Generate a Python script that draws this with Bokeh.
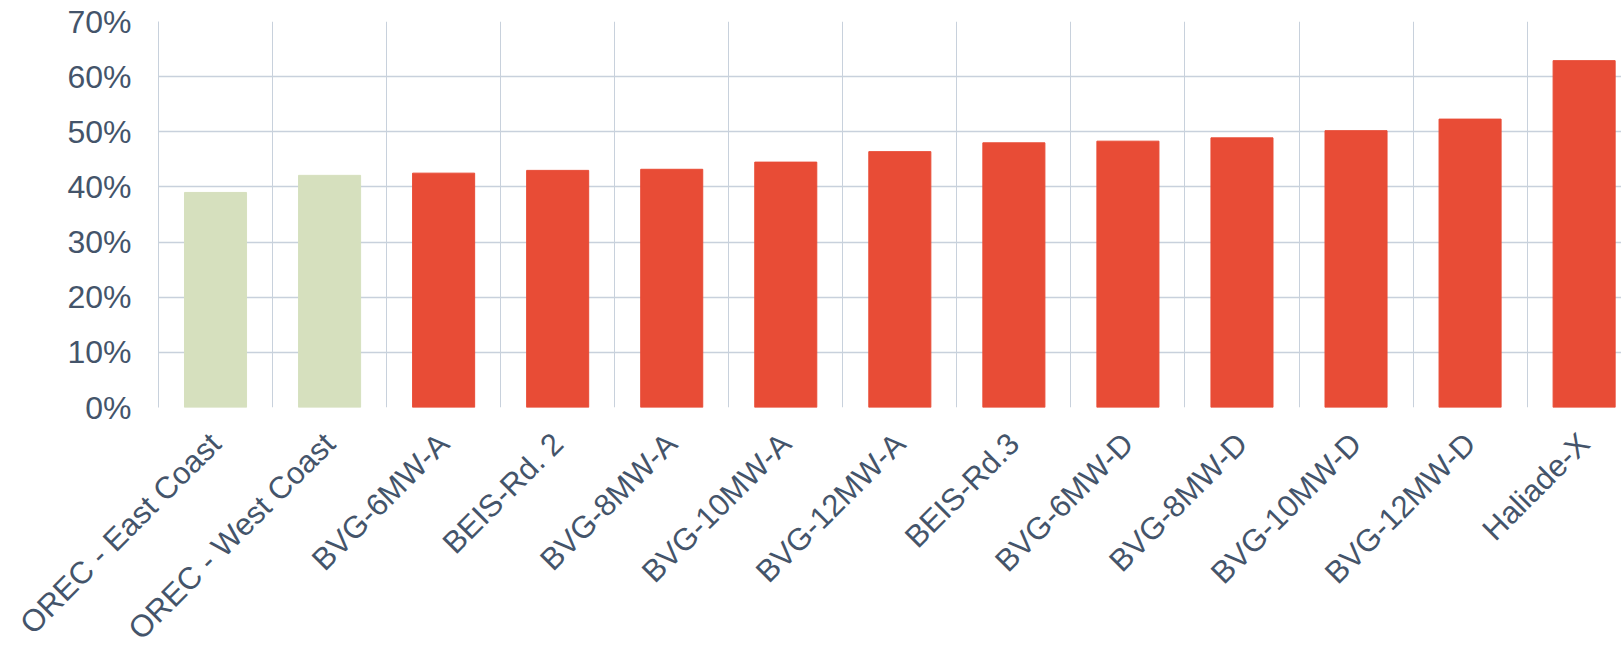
from bokeh.plotting import figure
from bokeh.models import Range1d, FixedTicker, NumeralTickFormatter, ColumnDataSource, Plot
from bokeh.layouts import column
from bokeh.core.properties import value
from bokeh.embed import file_html
from bokeh.resources import INLINE
import math

categories = ["OREC - East Coast", "OREC - West Coast", "BVG-6MW-A", "BEIS-Rd. 2",
              "BVG-8MW-A", "BVG-10MW-A", "BVG-12MW-A", "BEIS-Rd.3", "BVG-6MW-D",
              "BVG-8MW-D", "BVG-10MW-D", "BVG-12MW-D", "Haliade-X"]
values = [0.390, 0.421, 0.425, 0.430, 0.432, 0.445, 0.464, 0.480, 0.483, 0.489, 0.502, 0.523, 0.629]
groups = ["OREC", "OREC"] + ["other"] * 11
y_ticks = [0, 0.1, 0.2, 0.3, 0.4, 0.5, 0.6, 0.7]

GREEN = "#D6E0BE"
RED = "#E84C36"
TEXT = "#44546A"
GRID = "#C8D1DC"

W = 1621
LEFT = 158          # plot area left edge (px)
CAT_PX = 114.05     # width of one category (px)
X_END = (W - LEFT) / CAT_PX
GAP = 18            # white band under the plot area in the main figure
H1 = 407 + GAP
H2 = 647 - H1
LABEL_DROP = 31     # distance of label anchors below the axis (px)

xs = [i + 0.5 for i in range(len(categories))]
colors = [GREEN if g == "OREC" else RED for g in groups]
src = ColumnDataSource(dict(x=xs, top=values, color=colors))

# ---- main chart -------------------------------------------------------
p = figure(width=W, height=H1, output_backend="svg", toolbar_location=None,
           x_range=Range1d(0, X_END), y_range=Range1d(0, 0.7),
           min_border_left=LEFT, min_border_right=0, min_border_top=21, min_border_bottom=GAP)
p.vbar(x="x", top="top", bottom=0, width=0.544, color="color", source=src)

p.outline_line_color = None
p.background_fill_color = "white"
p.border_fill_color = "white"
p.xaxis.visible = False

p.yaxis.ticker = FixedTicker(ticks=y_ticks)
p.yaxis.formatter = NumeralTickFormatter(format="0%")
p.yaxis.major_tick_line_color = None
p.yaxis.minor_tick_line_color = None
p.yaxis.axis_line_color = GRID
p.yaxis.major_label_text_font = "Liberation Sans"
p.yaxis.major_label_text_font_size = "32px"
p.yaxis.major_label_text_color = TEXT
p.yaxis.major_label_standoff = 21

p.xgrid.ticker = FixedTicker(ticks=list(range(1, 13)))
p.xgrid.grid_line_color = GRID
p.xgrid.grid_line_width = 1
p.ygrid.ticker = FixedTicker(ticks=y_ticks)
p.ygrid.grid_line_color = GRID
p.ygrid.grid_line_width = 1.5

# ---- category labels strip (same pixel scale for x) --------------------
lab = figure(width=W, height=H2, output_backend="svg", toolbar_location=None,
             x_range=Range1d(-LEFT / CAT_PX, X_END), y_range=Range1d(-H2, 0),
             min_border_left=0, min_border_right=0, min_border_top=0, min_border_bottom=0)
lab.axis.visible = False
lab.grid.visible = False
lab.outline_line_color = None
lab.background_fill_color = "white"
lab.border_fill_color = "white"
if "frame_align" in Plot.properties():
    p.frame_align = False
    lab.frame_align = False
lab_src = ColumnDataSource(dict(x=xs, y=[-(LABEL_DROP - GAP)] * len(xs), text=categories))
lab.text(x="x", y="y", text="text", source=lab_src, angle=math.pi / 4,
         text_align="right", text_baseline="middle",
         text_font=value("Liberation Sans"), text_font_size=value("31px"), text_color=TEXT)

layout = column(p, lab, spacing=0)
open("out.html", "w").write(file_html(layout, INLINE))
